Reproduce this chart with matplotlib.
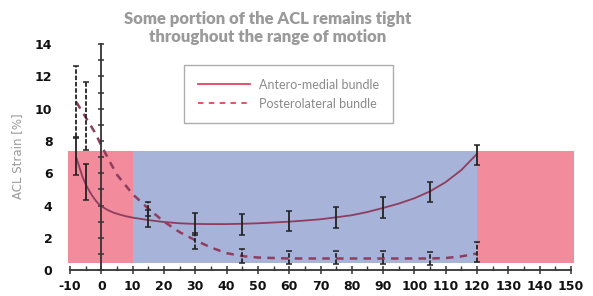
import matplotlib.pyplot as plt
from matplotlib.lines import Line2D
from matplotlib.patches import Rectangle

# knee flexion phases (start, end, colour)
phase_start = [-10.7, 10, 120]
phase_end = [10, 120, 151]
phase_color = ['#f28b9c', '#a7b3d8', '#f28b9c']
band_low, band_high = 0.45, 7.4

# antero-medial bundle: fitted curve
am_curve_x = [-8, -6, -5, -4, -3, -2, -1, 0, 2, 4, 6, 8, 10, 15, 20, 25, 30, 35,
              40, 45, 50, 55, 60, 65, 70, 75, 80, 85, 90, 95, 100, 105, 110, 115, 120]
am_curve_y = [6.95, 5.75, 5.3, 4.95, 4.62, 4.35, 4.12, 3.95, 3.72, 3.55, 3.43, 3.33, 3.25,
              3.1, 2.98, 2.9, 2.86, 2.85, 2.85, 2.87, 2.9, 2.95, 3.0, 3.07, 3.15, 3.27,
              3.4, 3.6, 3.85, 4.12, 4.45, 4.88, 5.45, 6.2, 7.2]
# antero-medial measurements
am_x = [-8, -5, 15, 30, 45, 60, 75, 90, 105, 120]
am_mean = [7.05, 5.45, 3.2, 2.86, 2.82, 3.05, 3.25, 3.9, 4.86, 7.13]
am_err = [1.15, 1.1, 0.55, 0.7, 0.65, 0.64, 0.65, 0.65, 0.62, 0.65]

# posterolateral bundle
pl_curve_x = [-8, -5, -2, 0, 3, 5, 10, 15, 20, 25, 30, 35, 40, 45, 50, 60,
              75, 90, 105, 110, 115, 120]
pl_curve_y = [10.4, 9.45, 8.5, 7.7, 6.6, 5.9, 4.7, 3.8, 3.0, 2.35, 1.85, 1.4, 1.05,
              0.87, 0.78, 0.72, 0.72, 0.72, 0.72, 0.75, 0.85, 1.03]
pl_x = [-8, -5, 15, 30, 45, 60, 75, 90, 105, 120]
pl_mean = [10.45, 9.55, 3.8, 1.8, 0.87, 0.8, 0.78, 0.78, 0.72, 1.13]
pl_err = [2.2, 2.1, 0.42, 0.5, 0.42, 0.4, 0.42, 0.4, 0.42, 0.62]

x_ticks = list(range(-10, 151, 10))
y_ticks = list(range(0, 15, 2))

curve_color = '#8f3d5f'
legend_color = '#e0455f'
bar_color = '#222222'

fig = plt.figure(figsize=(5.93, 2.96), dpi=100)
ax = fig.add_axes([0.113, 0.082, 0.855, 0.78])
ax.set_xlim(-11, 151)
ax.set_ylim(-0.1, 14.2)

for s, e, c in zip(phase_start, phase_end, phase_color):
    ax.add_patch(Rectangle((s, band_low), e - s, band_high - band_low,
                           facecolor=c, edgecolor='none', zorder=1))

ax.plot(am_curve_x, am_curve_y, color=curve_color, lw=1.3, zorder=3)
ax.plot(pl_curve_x, pl_curve_y, color=curve_color, lw=1.8, dashes=(3, 2.5), zorder=3)

ax.errorbar(am_x, am_mean, yerr=am_err, fmt='none', ecolor=bar_color,
            elinewidth=1.3, capsize=2.5, capthick=1.1, zorder=4)
eb = ax.errorbar(pl_x, pl_mean, yerr=pl_err, fmt='none', ecolor=bar_color,
                 elinewidth=1.3, capsize=2.5, capthick=1.1, zorder=4)
eb[2][0].set_linestyle((0, (2.5, 1)))

# axes styling
for side in ['top', 'left']:
    ax.spines[side].set_visible(False)
ax.spines['bottom'].set_position(('data', 0))
ax.spines['bottom'].set_bounds(-10, 150)
ax.spines['right'].set_position(('data', 0))
ax.spines['right'].set_bounds(0, 14)
for side in ['bottom', 'right']:
    ax.spines[side].set_color('#333333')
    ax.spines[side].set_linewidth(1.3)
    ax.spines[side].set_zorder(5)

ax.set_xticks(x_ticks)
ax.set_xticklabels([str(t) for t in x_ticks])
ax.set_xticks(list(range(-5, 150, 10)), minor=True)
ax.tick_params(axis='x', which='major', direction='inout', length=6, width=1.1,
               color='#333333', labelsize=9, pad=4)
ax.tick_params(axis='x', which='minor', direction='in', length=3, width=1,
               color='#333333')

ax.set_yticks(y_ticks)
ax.set_yticks(list(range(1, 14, 2)), minor=True)
ax.tick_params(axis='y', which='both', left=False, right=True, labelleft=True,
               labelright=False, direction='inout', length=5, width=1.1,
               color='#333333', labelsize=9, pad=8)
for lab in ax.get_xticklabels() + ax.get_yticklabels():
    lab.set_fontweight('semibold')
    lab.set_color('#111111')

ax.set_ylabel('ACL Strain [%]', color='#9a9a9a', fontsize=8.5, labelpad=12)
ax.yaxis.set_label_coords(-0.085, 0.5)

handles = [Line2D([], [], color=legend_color, lw=1.3),
           Line2D([], [], color=legend_color, lw=1.3, dashes=(3, 3))]
leg = ax.legend(handles, ['Antero-medial bundle', 'Posterolateral bundle'],
                loc='upper left', bbox_to_anchor=(0.2308, 0.895),
                prop={'family': 'Lato', 'size': 9},
                frameon=True, fancybox=False, handlelength=4.2, handletextpad=0.7,
                borderpad=1.1, borderaxespad=0, labelspacing=0.55)
leg.get_frame().set_edgecolor('#999999')
leg.get_frame().set_linewidth(1.0)
for t in leg.get_texts():
    t.set_color('#8a8a8a')

fig.text(0.452, 0.905, 'Some portion of the ACL remains tight\nthroughout the range of motion',
         ha='center', va='center', fontsize=12, fontweight='heavy', color='#9a9a9a',
         family='Lato', linespacing=1.1)

fig.savefig('out.png', dpi=100)
